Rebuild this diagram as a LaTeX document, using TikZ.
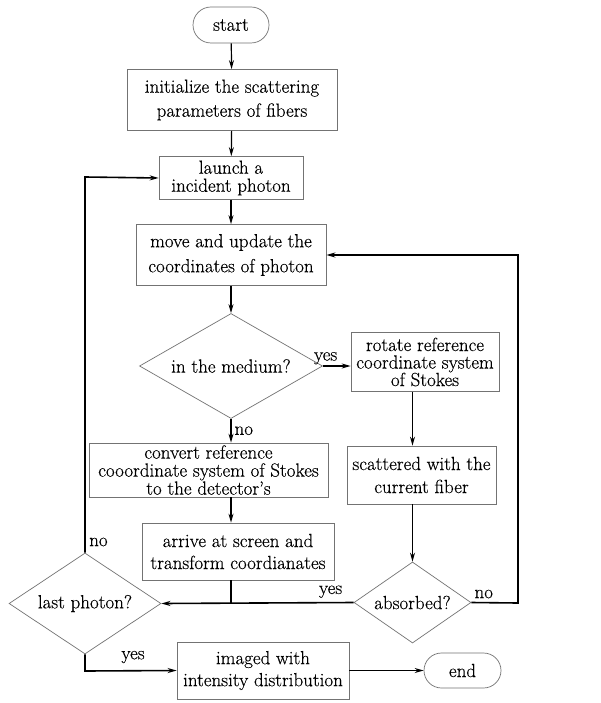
\documentclass[tikz,border=0pt]{standalone}
\usepackage{fontspec}
\setmainfont{Latin Modern Roman}[FakeBold=0.3]
\usetikzlibrary{shapes.geometric,shapes.misc,arrows.meta,positioning,calc}
\begin{document}
\begin{tikzpicture}[x=1pt,y=-1pt,
  every node/.style={font=\fontsize{19}{23}\selectfont},
  box/.style={draw=black!55,line width=0.7pt,rectangle,inner sep=0pt,align=center},
  term/.style={draw=black!55,line width=0.7pt,rounded rectangle,inner sep=0pt,align=center},
  dec/.style={draw=black!55,line width=0.7pt,diamond,aspect=1.7,inner sep=0pt,align=center},
  arr/.style={line width=1.2pt,-{Stealth[length=9pt,width=5pt]}},
  loop/.style={line width=1.6pt,-{Stealth[length=9pt,width=5pt]}},
  plain/.style={line width=1.6pt},
  lbl/.style={inner sep=1pt}]
\useasboundingbox (0,0) rectangle (601,703);
\fill[white] (0,0) rectangle (601,703);

\node[term,minimum width=76,minimum height=36] (start) at (231,25) {start};
\node[box,minimum width=210,minimum height=61,font=\fontsize{19}{24}\selectfont] (init) at (232,100) {initialize the scattering\\parameters of fibers};
\node[box,minimum width=144,minimum height=43,font=\fontsize{19}{18}\selectfont] (launch) at (231,178) {launch a\\incident photon};
\node[box,minimum width=190,minimum height=61,font=\fontsize{19}{25}\selectfont] (move) at (231,255) {move and update the\\coordinates of photon};
\node[dec,minimum width=183,minimum height=105] (medium) at (231,366) {in the medium?};
\node[box,minimum width=148,minimum height=59,font=\fontsize{19}{17.5}\selectfont] (rotate) at (425,362) {rotate reference\\coordinate system\\of Stokes};
\node[box,minimum width=239,minimum height=54,font=\fontsize{19}{18}\selectfont] (convert) at (208.5,470) {convert reference\\cooordinate system of Stokes\\to the detector's};
\node[box,minimum width=149,minimum height=58] (scatter) at (421.5,475) {scattered with the\\current fiber};
\node[box,minimum width=192,minimum height=57,font=\fontsize{19}{22}\selectfont] (arrive) at (238,551.5) {arrive at screen and\\transform coordianates};
\node[dec,minimum width=152,minimum height=101] (last) at (85,603.5) {last photon?};
\node[dec,minimum width=117,minimum height=81] (absorb) at (412.5,602.5) {absorbed?};
\node[box,minimum width=172,minimum height=57,font=\fontsize{19}{22}\selectfont] (image) at (263,670.5) {imaged with\\intensity distribution};
\node[term,minimum width=77,minimum height=35] (end) at (462.5,670.5) {end};

\coordinate (rr) at (518,603);
\coordinate (rt) at (518,255);
\coordinate (lt) at (85,177);
\coordinate (lb) at (85,671);

\draw[arr] (start) -- (init);
\draw[arr] (init) -- (launch);
\draw[arr] (launch) -- (move);
\draw[arr] (move) -- (medium);
\draw[arr] (medium.east) -- (rotate.west |- medium.east) node[lbl,pos=0.1,above] {yes};
\draw[arr] (rotate.south -| absorb.north) -- (scatter.north -| absorb.north);
\draw[arr] (scatter.south -| absorb.north) -- (absorb.north);
\draw[arr] (medium.south) -- (convert.north -| medium.south) node[lbl,midway,right,xshift=2pt] {no};
\draw[arr] (convert.south -| medium.south) -- (arrive.north -| medium.south);
\draw[plain] (arrive.south -| medium.south) -- (last.east -| medium.south);
\draw[loop] (absorb.west) -- (last.east) node[lbl,pos=0.12,above,yshift=3pt] {yes};
\draw[loop] (absorb.east) -- (rr) -- (rt) -- (move.east);
\node[lbl,anchor=south west] (noR) at ($(absorb.east)+(2,-3)$) {no};
\draw[loop] (last.north) -- (lt) -- (launch.west);
\node[lbl,anchor=west] (noL) at (88,542) {no};
\draw[loop] (last.south) -- (lb) -- (image.west);
\node[lbl] (yesB) at (133,657) {yes};
\draw[arr] (image.east) -- (end.west);
\end{tikzpicture}
\end{document}
